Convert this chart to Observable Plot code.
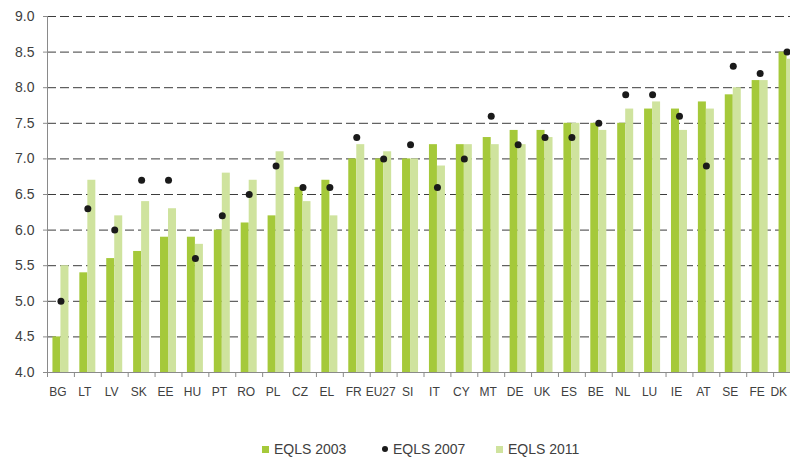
<!DOCTYPE html>
<html>
<head>
<meta charset="utf-8">
<script src="https://cdn.jsdelivr.net/npm/d3@7"></script>
<script src="https://cdn.jsdelivr.net/npm/@observablehq/plot@0.6"></script>
<style>
  html, body { margin: 0; padding: 0; background: #fff; overflow: hidden; }
  #chart { width: 790px; height: 457px; position: relative; overflow: hidden; }
  .legend { position: absolute; top: 440px; left: 0; width: 790px; height: 18px;
    font-family: "Liberation Sans", Arial, sans-serif; font-size: 14px; color: #404040; }
  .legend .item { position: absolute; top: 0; display: flex; align-items: center; height: 18px; }
  .legend .sw { display: inline-block; width: 7px; height: 7px; margin-right: 5px; }
  .legend .dot { display: inline-block; width: 6px; height: 6px; border-radius: 50%; background: #1a1a1a; margin-right: 5px; }
</style>
</head>
<body>
<div id="chart"></div>
<script>
const countries = ["BG","LT","LV","SK","EE","HU","PT","RO","PL","CZ","EL","FR","EU27","SI","IT","CY","MT","DE","UK","ES","BE","NL","LU","IE","AT","SE","FE","DK"];
const eqls2003 = [4.5,5.4,5.6,5.7,5.9,5.9,6.0,6.1,6.2,6.6,6.7,7.0,7.0,7.0,7.2,7.2,7.3,7.4,7.4,7.5,7.5,7.5,7.7,7.7,7.8,7.9,8.1,8.5];
const eqls2007 = [5.0,6.3,6.0,6.7,6.7,5.6,6.2,6.5,6.9,6.6,6.6,7.3,7.0,7.2,6.6,7.0,7.6,7.2,7.3,7.3,7.5,7.9,7.9,7.6,6.9,8.3,8.2,8.5];
const eqls2011 = [5.5,6.7,6.2,6.4,6.3,5.8,6.8,6.7,7.1,6.4,6.2,7.2,7.1,7.0,6.9,7.2,7.2,7.2,7.3,7.5,7.4,7.7,7.8,7.4,7.7,8.0,8.1,8.4];
const yTicks = [4.0,4.5,5.0,5.5,6.0,6.5,7.0,7.5,8.0,8.5,9.0];
const seriesNames = ["EQLS 2003","EQLS 2007","EQLS 2011"];

const data = countries.map((c, i) => ({country: c, v2003: eqls2003[i], v2007: eqls2007[i], v2011: eqls2011[i]}));

const dark = "#a5c93a", light = "#cfe39e", dotColor = "#1a1a1a";
const W = 790, H = 425, mL = 47, mR = -10, mT = 16, mB = 53;
const bw = (W - mL - mR) / countries.length;
const lastCountry = countries[countries.length - 1];

const plot = Plot.plot({
  width: W, height: H,
  marginLeft: mL, marginRight: mR, marginTop: mT, marginBottom: mB,
  style: {fontFamily: "'Liberation Sans', Arial, sans-serif", fontSize: "13px", color: "#404040", background: "#fff", overflow: "hidden"},
  x: {domain: countries, padding: 0, round: false, axis: null, label: null},
  y: {domain: [4, 9], axis: null, label: null},
  marks: [
    Plot.ruleY(yTicks.slice(1), {stroke: "#3c3c3c", strokeWidth: 1, strokeDasharray: "9,4"}),
    Plot.barY(data, {x: "country", y1: 4, y2: "v2003", fill: dark, insetLeft: bw/2 - 8, insetRight: bw/2}),
    Plot.barY(data, {x: "country", y1: 4, y2: "v2011", fill: light, insetLeft: bw/2, insetRight: bw/2 - 8}),
    Plot.dot(data, {x: "country", y: "v2007", r: 3.5, fill: dotColor, stroke: null}),
    Plot.ruleY([4], {stroke: "#8a8a8a"}),
    Plot.ruleX([countries[0]], {y1: 4, y2: 9, dx: -bw/2, stroke: "#8a8a8a"}),
    Plot.axisY({ticks: yTicks, tickFormat: d3.format(".1f"), tickSize: 4, tickPadding: 9, stroke: "#8a8a8a", fill: "#404040", fontSize: 14}),
    Plot.axisX({tickSize: 5, tickFormat: () => "", dx: -bw/2, stroke: "#8a8a8a"}),
    Plot.text(countries.slice(0, -1), {x: d => d, frameAnchor: "bottom", dx: -3, dy: 23, textAnchor: "middle", fill: "#404040", fontSize: 12}),
    Plot.text([lastCountry], {x: d => d, frameAnchor: "bottom", dx: 0, dy: 23, textAnchor: "end", fill: "#404040", fontSize: 12})
  ]
});
const chart = document.getElementById("chart");
chart.appendChild(plot);

const legend = document.createElement("div");
legend.className = "legend";
const items = [
  {name: seriesNames[0], kind: "sw", color: dark, left: 262},
  {name: seriesNames[1], kind: "dot", color: dotColor, left: 382},
  {name: seriesNames[2], kind: "sw", color: light, left: 496}
];
for (const it of items) {
  const d = document.createElement("div");
  d.className = "item";
  d.style.left = it.left + "px";
  const m = document.createElement("span");
  m.className = it.kind;
  if (it.kind === "sw") m.style.background = it.color;
  const t = document.createElement("span");
  t.textContent = it.name;
  d.appendChild(m); d.appendChild(t);
  legend.appendChild(d);
}
chart.appendChild(legend);
</script>
</body>
</html>
